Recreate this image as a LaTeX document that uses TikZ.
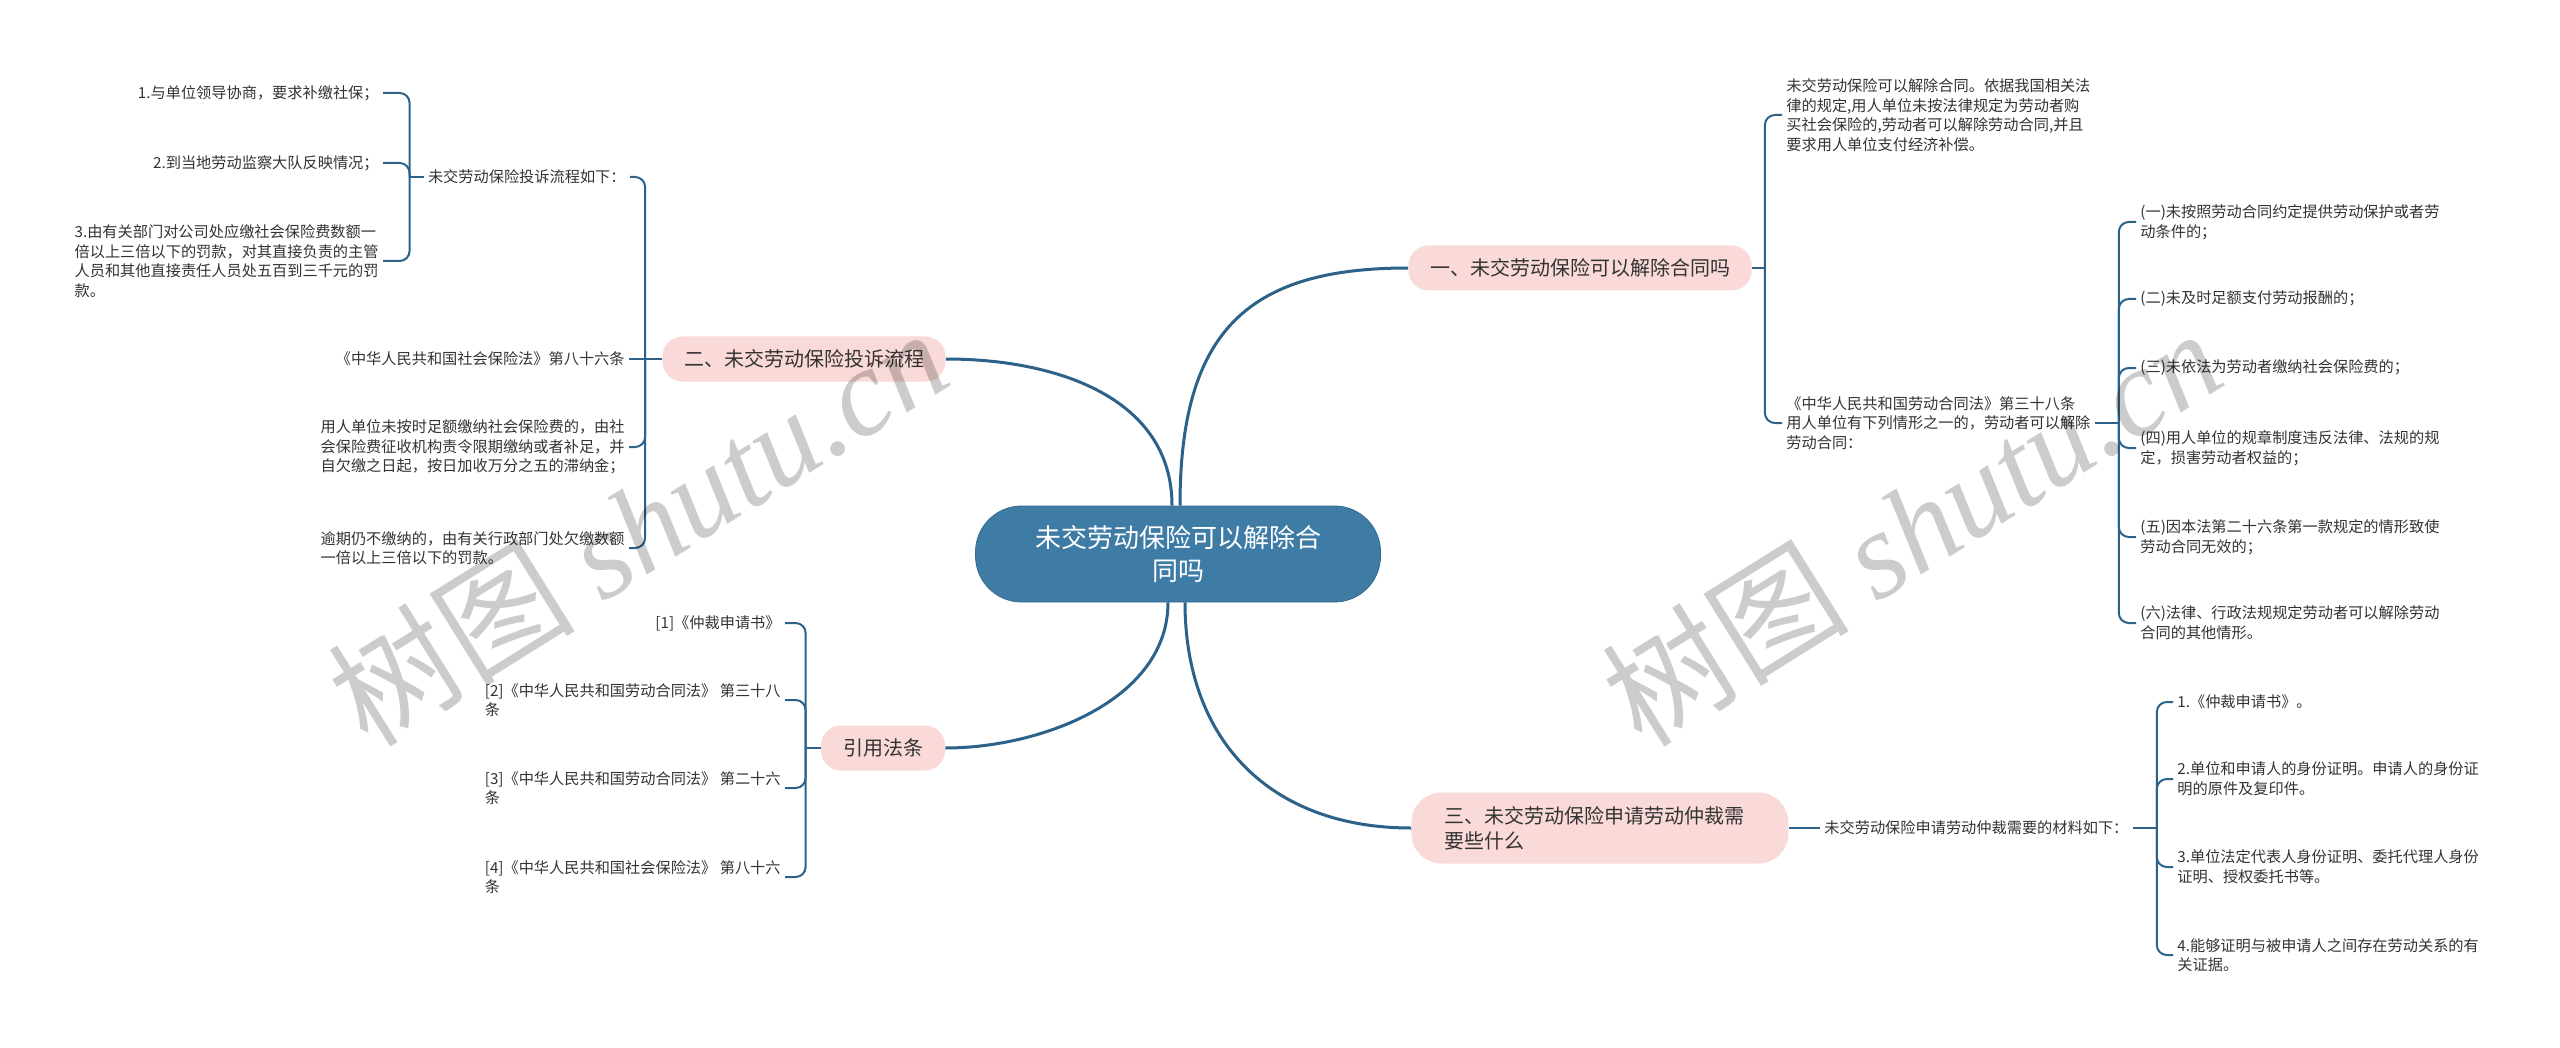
\documentclass[tikz,border=0pt]{standalone}
\usepackage{fontspec}
\setmainfont{Noto Sans CJK SC}
\newfontfamily\markserif{Liberation Serif}
\usepackage{tikz}
\usetikzlibrary{positioning}
\definecolor{rootblue}{RGB}{62,124,166}
\definecolor{linkblue}{RGB}{44,98,137}
\definecolor{blush}{RGB}{249,218,217}
\definecolor{ink}{RGB}{51,51,51}

\begin{document}
\begin{tikzpicture}[
    x=0.5pt, y=-0.5pt,
    root/.style={rectangle, rounded corners=23pt, fill=rootblue, draw=rootblue!85!black,
                 text=white, minimum width=202.5pt, minimum height=48pt, align=center,
                 font=\fontsize{13}{16.7}\selectfont},
    branch/.style={rectangle, rounded corners=10pt, fill=blush, text=ink,
                   minimum height=22.5pt, font=\fontsize{10}{12.5}\selectfont},
    leaf/.style={inner sep=2pt, text=ink, align=left, font=\fontsize{7.6}{9.8}\selectfont},
    trunk/.style={draw=linkblue, line width=1.5pt},
    brace/.style={draw=linkblue, line width=1pt, rounded corners=5pt},
    wmark/.style={text=black, text opacity=0.2, font=\fontsize{62}{62}\selectfont}
  ]
    \fill[white] (0,0) rectangle (2560,1048);
    \useasboundingbox (0,0) rectangle (2560,1048);

    % centre
    \node[root] (root) at (1178,554) {未交劳动保险可以解除合\\同吗};

    % main branches
    \node[branch, minimum width=171.5pt] (b1) at (1580,268) {一、未交劳动保险可以解除合同吗};
    \node[branch, minimum width=141.5pt] (b2) at (804,359) {二、未交劳动保险投诉流程};
    \node[branch, minimum width=62pt] (b4) at (883,748) {引用法条};
    \node[branch, anchor=west, text width=155.5pt, inner xsep=16.5pt, minimum height=35.5pt,
          align=left, rounded corners=15pt] (b3) at (1411,828) {三、未交劳动保险申请劳动仲裁需\\要些什么};

    \draw[trunk] ([xshift=1pt]root.north) .. controls +(0,-176) and +(-159,0) .. (b1.west);
    \draw[trunk] ([xshift=-3pt]root.north) .. controls +(0,-106) and +(114,0) .. (b2.east);
    \draw[trunk] ([xshift=-5pt]root.south) .. controls +(0,98) and +(95,0) .. (b4.east);
    \draw[trunk] ([xshift=3.5pt]root.south) .. controls +(0,138) and +(-141,0) .. (b3.west);

    % branch two
    \coordinate[left=8.5pt of b2.west] (j2);
    \node[leaf, anchor=east] (q1) at (630,177) {未交劳动保险投诉流程如下：};
    \node[leaf, anchor=east] (q2) at (629,359) {《中华人民共和国社会保险法》第八十六条};
    \node[leaf, anchor=east] (q3) at (629,447) {用人单位未按时足额缴纳社会保险费的，由社\\会保险费征收机构责令限期缴纳或者补足，并\\自欠缴之日起，按日加收万分之五的滞纳金；};
    \node[leaf, anchor=east] (q4) at (629,548) {逾期仍不缴纳的，由有关行政部门处欠缴数额\\一倍以上三倍以下的罚款。};
    \draw[brace] (b2.west) -- (j2);
    \draw[brace] (j2) -- (q2.east);
    \foreach \c in {q1,q3,q4} \draw[brace] (j2) |- (\c.east);

    \coordinate[left=7pt of q1.west] (j21);
    \node[leaf, anchor=east] (s1) at (383,93) {1.与单位领导协商，要求补缴社保；};
    \node[leaf, anchor=east] (s2) at (383,163) {2.到当地劳动监察大队反映情况；};
    \node[leaf, anchor=east] (s3) at (383,261) {3.由有关部门对公司处应缴社会保险费数额一\\倍以上三倍以下的罚款，对其直接负责的主管\\人员和其他直接责任人员处五百到三千元的罚\\款。};
    \draw[brace] (q1.west) -- (j21);
    \foreach \c in {s1,s2,s3} \draw[brace] (j21) |- (\c.east);

    % cited laws
    \coordinate[left=7.5pt of b4.west] (j4);
    \node[leaf, anchor=east] (r1) at (785,623) {[1]《仲裁申请书》};
    \node[leaf, anchor=east] (r2) at (785,700) {[2]《中华人民共和国劳动合同法》 第三十八\\条};
    \node[leaf, anchor=east] (r3) at (785,788) {[3]《中华人民共和国劳动合同法》 第二十六\\条};
    \node[leaf, anchor=east] (r4) at (785,877) {[4]《中华人民共和国社会保险法》 第八十六\\条};
    \draw[brace] (b4.west) -- (j4);
    \foreach \c in {r1,r2,r3,r4} \draw[brace] (j4) |- (\c.east);

    % branch one
    \coordinate[right=6.5pt of b1.east] (j1);
    \node[leaf, anchor=west] (p1) at (1782,115) {未交劳动保险可以解除合同。依据我国相关法\\律的规定,用人单位未按法律规定为劳动者购\\买社会保险的,劳动者可以解除劳动合同,并且\\要求用人单位支付经济补偿。};
    \node[leaf, anchor=west] (p2) at (1782,423) {《中华人民共和国劳动合同法》第三十八条\\用人单位有下列情形之一的，劳动者可以解除\\劳动合同：};
    \draw[brace] (b1.east) -- (j1);
    \foreach \c in {p1,p2} \draw[brace] (j1) |- (\c.west);

    \coordinate[right=12pt of p2.east] (j12);
    \node[leaf, anchor=west] (t1) at (2136,222) {(一)未按照劳动合同约定提供劳动保护或者劳\\动条件的；};
    \node[leaf, anchor=west] (t2) at (2136,299) {(二)未及时足额支付劳动报酬的；};
    \node[leaf, anchor=west] (t3) at (2136,368) {(三)未依法为劳动者缴纳社会保险费的；};
    \node[leaf, anchor=west] (t4) at (2136,448) {(四)用人单位的规章制度违反法律、法规的规\\定，损害劳动者权益的；};
    \node[leaf, anchor=west] (t5) at (2136,537) {(五)因本法第二十六条第一款规定的情形致使\\劳动合同无效的；};
    \node[leaf, anchor=west] (t6) at (2136,623) {(六)法律、行政法规规定劳动者可以解除劳动\\合同的其他情形。};
    \draw[brace] (p2.east) -- (j12);
    \foreach \c in {t1,t2,t3,t4,t5,t6} \draw[brace] (j12) |- (\c.west);

    % branch three
    \node[leaf, anchor=west] (m0) at (1820,828) {未交劳动保险申请劳动仲裁需要的材料如下：};
    \draw[brace] (b3.east) -- (m0.west);
    \coordinate[right=12pt of m0.east] (j3);
    \node[leaf, anchor=west] (u1) at (2173,702) {1.《仲裁申请书》。};
    \node[leaf, anchor=west] (u2) at (2173,779) {2.单位和申请人的身份证明。申请人的身份证\\明的原件及复印件。};
    \node[leaf, anchor=west] (u3) at (2173,867) {3.单位法定代表人身份证明、委托代理人身份\\证明、授权委托书等。};
    \node[leaf, anchor=west] (u4) at (2173,955) {4.能够证明与被申请人之间存在劳动关系的有\\关证据。};
    \draw[brace] (m0.east) -- (j3);
    \foreach \c in {u1,u2,u3,u4} \draw[brace] (j3) |- (\c.west);

    % watermarks
    \node[wmark, rotate=32] (wm1) at (637,526) {树图 {\markserif\itshape shutu.cn}};
    \node[wmark, rotate=32] (wm2) at (1911,526) {树图 {\markserif\itshape shutu.cn}};
  \end{tikzpicture}
\end{document}
